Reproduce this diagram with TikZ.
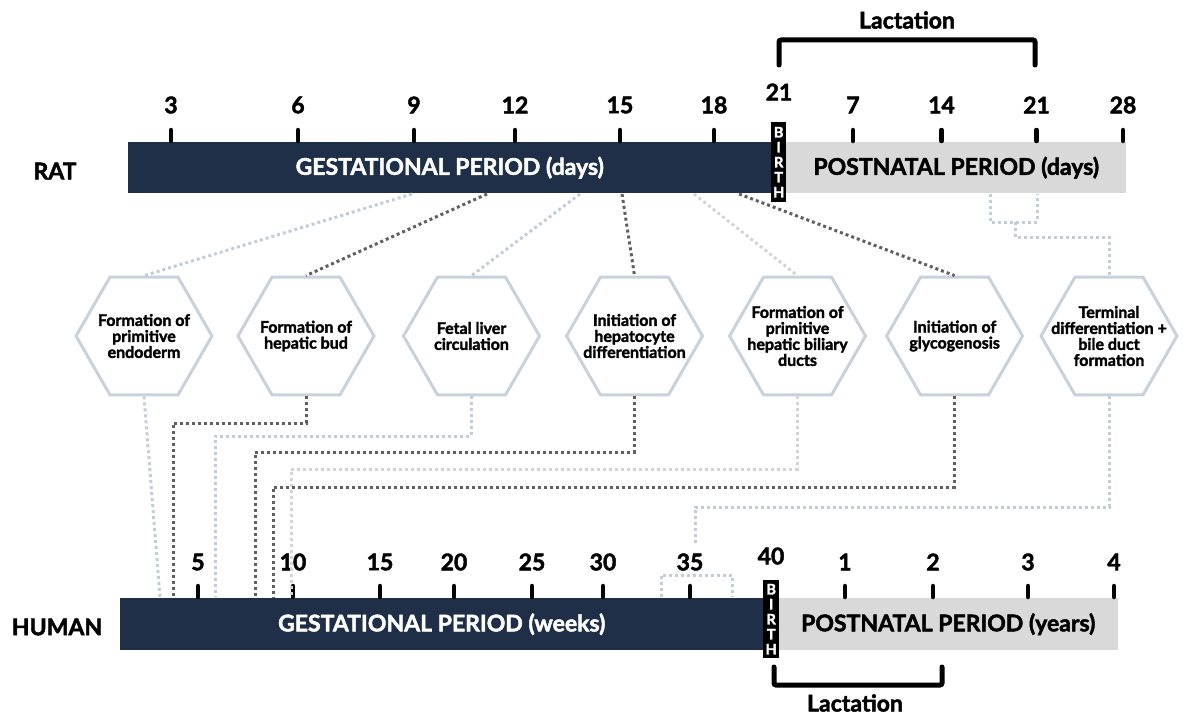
\documentclass[tikz,border=0pt]{standalone}
\usepackage{fontspec}
\setmainfont{Lato}[BoldFeatures={FakeBold=2}]
\usetikzlibrary{shapes.geometric}
\definecolor{navy}{HTML}{1F2F47}
\definecolor{lgray}{HTML}{D9D9D9}
\definecolor{hexc}{HTML}{C9D1DB}
\definecolor{dk}{HTML}{606060}
\definecolor{lt}{HTML}{C3CCD8}
\definecolor{lt2}{HTML}{D4D4D4}
\begin{document}
\begin{tikzpicture}[x=1pt,y=-1pt,
  big/.style={font=\fontsize{23}{26}\selectfont\bfseries, inner sep=0pt},
  bar/.style={rectangle, inner sep=0pt, anchor=north west, font=\fontsize{23}{26}\selectfont\bfseries},
  birthbox/.style={rectangle, fill=black, inner sep=0pt, anchor=north west, text=white, align=center, font=\fontsize{14.5}{15}\selectfont\bfseries},
  tick/.style={line width=4.5pt, line cap=round},
  brk/.style={line width=5pt, line cap=round, rounded corners=2pt},
  hexa/.style={regular polygon, regular polygon sides=6, minimum size=136pt, draw=hexc, line width=3pt, inner sep=0pt},
  hext/.style={align=center, inner sep=0pt, font=\fontsize{16}{16}\selectfont\bfseries},
  conn/.style={line width=3pt, dash pattern=on 3pt off 3pt},
  cdk/.style={conn, draw=dk},
  clt/.style={conn, draw=lt},
  clt2/.style={conn, draw=lt2}]
\useasboundingbox (0,0) rectangle (1183,717);
% ---- labels
\node[big] (rat) at (55,171) {RAT};
\node[big] (human) at (57,627) {HUMAN};
% ---- rat bars
\node[bar, fill=navy, text=white, minimum width=643pt, minimum height=51pt] (ratG) at (128,142) {GESTATIONAL PERIOD (days)};
\node[bar, fill=lgray, text=black, minimum width=340pt, minimum height=51pt] (ratP) at (786,142) {POSTNATAL PERIOD (days)};
\node[birthbox, minimum width=15pt, minimum height=80pt] (ratB) at (771,122) {B\\I\\R\\T\\H};
% ---- human bars
\node[bar, fill=navy, text=white, minimum width=643pt, minimum height=52pt] (humG) at (120,598) {GESTATIONAL PERIOD (weeks)};
\node[bar, fill=lgray, text=black, minimum width=340pt, minimum height=52pt] (humP) at (778,598) {POSTNATAL PERIOD (years)};
\node[birthbox, minimum width=16pt, minimum height=78pt] (humB) at (763,580) {B\\I\\R\\T\\H};
% ---- rat ticks
\foreach \x/\t in {171/3,298/6,414/9,515/12,620/15,714/18,853/7,941.5/14,1036.5/21,1123/28}{
  \draw[tick] (\x,130) -- (\x,141);
  \node[big] at (\x,105) {\t};
}
\node[big] (r21) at (779,92) {21};
% ---- human ticks
\foreach \x/\t in {198/5,293/10,380/15,454/20,532/25,603/30,690/35,845/1,933/2,1028/3,1114/4}{
  \draw[tick] (\x,586) -- (\x,597);
  \node[big] at (\x,562) {\t};
}
\node[big] (h40) at (771,556) {40};
% ---- lactation brackets
\coordinate (la1) at (779,65);
\coordinate (la2) at (1035,65);
\draw[brk] (la1) -- (779,40) -- (1035,40) -- (la2);
\node[big] (lacT) at (907,20) {Lactation};
\coordinate (lb1) at (774,667);
\coordinate (lb2) at (942,667);
\draw[brk] (lb1) -- (774,685) -- (942,685) -- (lb2);
\node[big] (lacB) at (855,703) {Lactation};
% ---- hexagons
\node[hexa] (h1) at (144,336) {};
\node[hexa] (h2) at (306,336) {};
\node[hexa] (h3) at (471.5,336) {};
\node[hexa] (h4) at (634.5,336) {};
\node[hexa] (h5) at (797.5,336) {};
\node[hexa] (h6) at (954.6,336) {};
\node[hexa] (h7) at (1109,336) {};
\node[hext] at (h1) {Formation of\\primitive\\endoderm};
\node[hext] at (h2) {Formation of\\hepatic bud};
\node[hext] at (h3) {Fetal liver\\circulation};
\node[hext] at (h4) {Initiation of\\hepatocyte\\differentiation};
\node[hext] at (h5) {Formation of\\primitive\\hepatic biliary\\ducts};
\node[hext] at (h6) {Initiation of\\glycogenosis};
\node[hext] at (h7) {Terminal\\differentiation +\\bile duct\\formation};
% ---- top connectors
\coordinate (t1) at (412,194);
\coordinate (t2) at (487,194);
\coordinate (t3) at (580,194);
\coordinate (t4) at (622,194);
\coordinate (t5) at (694,194);
\coordinate (t6) at (739,194);
\coordinate (t7a) at (990,194);
\coordinate (t7b) at (1037,194);
\draw[clt] (t1) -- (h1.north);
\draw[cdk] (t2) -- (h2.north);
\draw[clt] (t3) -- (h3.north);
\draw[cdk] (t4) -- (h4.north);
\draw[clt2] (t5) -- (h5.north);
\draw[cdk] (t6) -- (h6.north);
\draw[clt] (t7a) -- (990,222) -- (1037,222) -- (t7b);
\draw[clt] (1015,222) -- (1015,237) -| (h7.north);
% ---- bottom connectors
\coordinate (b1) at (160,597);
\coordinate (b2) at (173,597);
\coordinate (b3) at (215,597);
\coordinate (b4) at (255,597);
\coordinate (b5) at (291,597);
\coordinate (b6) at (273,597);
\coordinate (b7) at (695,543);
\draw[clt] (h1.south) -- (b1);
\draw[cdk] (h2.south) -- (306,423) -| (b2);
\draw[clt] (h3.south) -- (h3.south |- 0,436) -| (b3);
\draw[cdk] (h4.south) -- (h4.south |- 0,452) -| (b4);
\draw[clt2] (h5.south) -- (h5.south |- 0,469) -| (b5);
\draw[cdk] (h6.south) -- (h6.south |- 0,487) -| (b6);
\draw[clt] (h7.south) -- (h7.south |- 0,507) -| (b7);
\coordinate (s1) at (661,597);
\coordinate (s2) at (732,597);
\draw[clt] (s1) -- (661,575) -- (732,575) -- (s2);
\end{tikzpicture}
\end{document}
